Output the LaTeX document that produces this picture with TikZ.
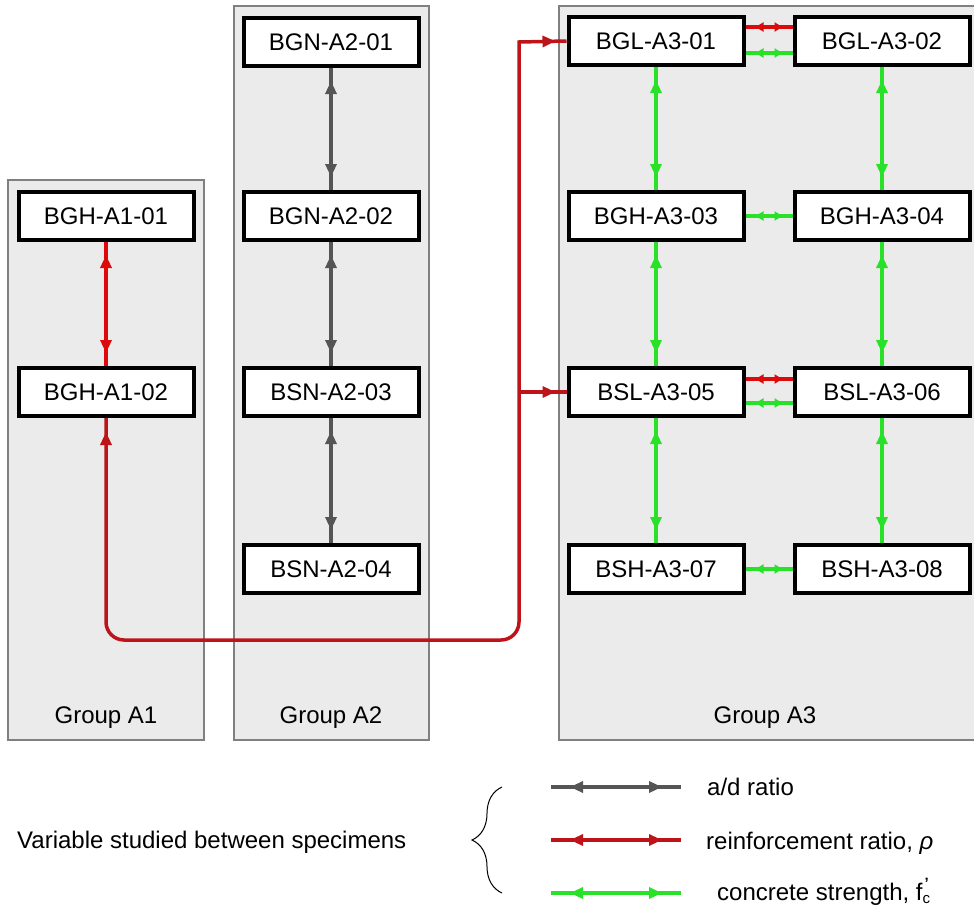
\documentclass[tikz,border=0pt]{standalone}
\usepackage{fontspec}
\setmainfont{Liberation Sans}
\usetikzlibrary{arrows.meta,decorations.markings,decorations.pathreplacing}
\definecolor{panelfill}{RGB}{235,235,235}
\definecolor{panelline}{RGB}{128,128,128}
\definecolor{lred}{RGB}{220,10,10}
\definecolor{pred}{RGB}{190,20,25}
\definecolor{lgreen}{RGB}{40,225,40}
\definecolor{lgray}{RGB}{85,85,85}
\begin{document}
\begin{tikzpicture}[x=1pt,y=-1pt,
  every node/.style={font=\fontsize{24}{28}\selectfont},
  panel/.style={fill=panelfill,draw=panelline,line width=1.3pt},
  specimen/.style={draw=black,fill=white,line width=4pt,minimum width=175pt,minimum height=48pt,inner sep=0pt},
  conn/.style={line width=3.5pt},
  tips/.style={decoration={markings,
      mark=at position #1 with {\arrowreversed{Triangle[length=13pt,width=11pt]}},
      mark=at position -#1 with {\arrow{Triangle[length=13pt,width=11pt]}}},postaction={decorate}},
  tips/.default=13pt,
  shorttips/.style={decoration={markings,
      mark=at position 10pt with {\arrowreversed{Triangle[length=8pt,width=9pt]}},
      mark=at position -10pt with {\arrow{Triangle[length=8pt,width=9pt]}}},postaction={decorate}},
  tipend/.style={decoration={markings,
      mark=at position -#1 with {\arrow{Triangle[length=13pt,width=11pt]}}},postaction={decorate}},
  tipend/.default=11pt,
  tipstart/.style={decoration={markings,
      mark=at position #1 with {\arrowreversed{Triangle[length=13pt,width=11pt]}}},postaction={decorate}},
  tipstart/.default=14pt,
  legtext/.style={anchor=base west,inner sep=0pt}
]
\useasboundingbox (0,0) rectangle (974,908);
\clip (0,0) rectangle (974,908);

% panels
\draw[panel] (8,180) rectangle (204,740);
\draw[panel] (234,6) rectangle (429,740);
\draw[panel] (559,6) rectangle (990,740);
\node[anchor=base] (gA1) at (106,723) {Group A1};
\node[anchor=base] (gA2) at (331,723) {Group A2};
\node[anchor=base] (gA3) at (765,723) {Group A3};

% specimens
\node[specimen] (a101) at (106,216) {BGH-A1-01};
\node[specimen] (a102) at (106,392) {BGH-A1-02};
\node[specimen] (a201) at (331,42) {BGN-A2-01};
\node[specimen] (a202) at (331,216) {BGN-A2-02};
\node[specimen] (a203) at (331,392) {BSN-A2-03};
\node[specimen] (a204) at (331,569) {BSN-A2-04};
\node[specimen] (a301) at (656,41) {BGL-A3-01};
\node[specimen] (a302) at (882,41) {BGL-A3-02};
\node[specimen] (a303) at (656,216) {BGH-A3-03};
\node[specimen] (a304) at (882,216) {BGH-A3-04};
\node[specimen] (a305) at (656,392) {BSL-A3-05};
\node[specimen] (a306) at (882,392) {BSL-A3-06};
\node[specimen] (a307) at (656,569) {BSH-A3-07};
\node[specimen] (a308) at (882,569) {BSH-A3-08};

% group A1
\draw[conn,lred,tips] (a101.south) -- (a102.north);
% group A2
\draw[conn,lgray,tips] (a201.south) -- (a202.north);
\draw[conn,lgray,tips] (a202.south) -- (a203.north);
\draw[conn,lgray,tips] (a203.south) -- (a204.north);
% group A3
\draw[conn,lred,shorttips] ([yshift=14pt]a301.east) -- ([yshift=14pt]a302.west);
\draw[conn,lgreen,shorttips] ([yshift=-12pt]a301.east) -- ([yshift=-12pt]a302.west);
\draw[conn,lred,shorttips] ([yshift=13pt]a305.east) -- ([yshift=13pt]a306.west);
\draw[conn,lgreen,shorttips] ([yshift=-11pt]a305.east) -- ([yshift=-11pt]a306.west);
\draw[conn,lgreen,shorttips] (a303.east) -- (a304.west);
\draw[conn,lgreen,shorttips] (a307.east) -- (a308.west);
\draw[conn,lgreen,tips] (a301.south) -- (a303.north);
\draw[conn,lgreen,tips] (a302.south) -- (a304.north);
\draw[conn,lgreen,tips] (a303.south) -- (a305.north);
\draw[conn,lgreen,tips] (a304.south) -- (a306.north);
\draw[conn,lgreen,tips] (a305.south) -- (a307.north);
\draw[conn,lgreen,tips] (a306.south) -- (a308.north);

% long red connector
\coordinate (c1) at (106,640);
\coordinate (c2) at (519,640);
\coordinate (c3) at (519,42);
\coordinate (c4) at (519,392);
\draw[conn,pred,rounded corners=18pt,tipstart] (a102.south) -- (c1) -- (c2) -- ([yshift=1.75pt]c3);
\draw[conn,pred,tipend] (c3) -- (a301.west);
\draw[conn,pred,tipend] (c4) -- (a305.west);

% legend
\node[legtext] (lvar) at (17,848) {Variable studied between specimens};
\draw[line width=1pt,decorate,decoration={brace,amplitude=30pt,aspect=0.5}] (502,893) -- (502,787);
\coordinate (g1) at (551,787); \coordinate (g2) at (681,787);
\coordinate (r1) at (551,840); \coordinate (r2) at (681,840);
\coordinate (e1) at (551,893); \coordinate (e2) at (681,893);
\draw[conn,lgray,tips=19pt] (g1) -- (g2);
\draw[conn,pred,tips=19pt] (r1) -- (r2);
\draw[conn,lgreen,tips=19pt] (e1) -- (e2);
\node[legtext] (lad) at (707,795) {a/d ratio};
\node[legtext] (lrho) at (706,849) {reinforcement ratio, \textit{ρ}};
\node[legtext] (lfc) at (717,900) {concrete strength, f\rlap{\raisebox{-3pt}{\fontsize{15}{15}\selectfont c}}\raisebox{12pt}{\fontsize{15}{15}\selectfont\hspace{2pt}\textbf{'}}};
\end{tikzpicture}
\end{document}
